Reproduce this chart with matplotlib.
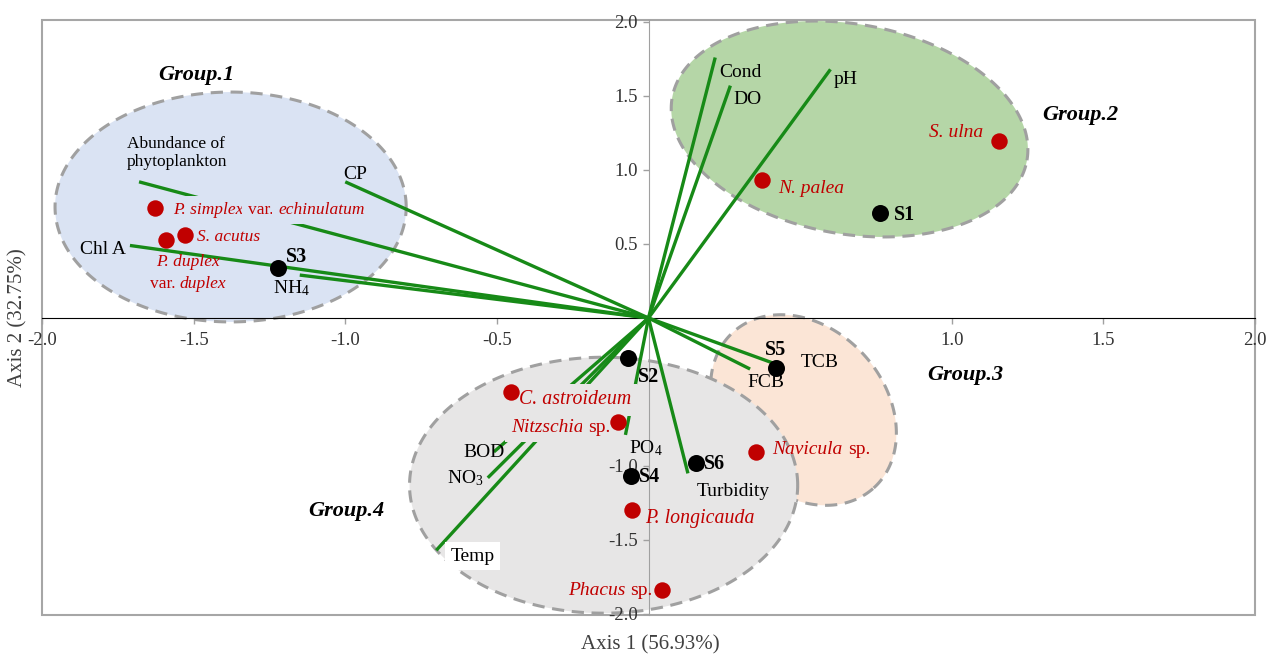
import numpy as np
import matplotlib
matplotlib.use("Agg")
import matplotlib.pyplot as plt
from matplotlib.patches import Polygon, Rectangle

plt.rcParams["font.family"] = ["Liberation Serif", "DejaVu Serif"]
plt.rcParams["mathtext.fontset"] = "custom"
plt.rcParams["mathtext.rm"] = "Liberation Serif"
plt.rcParams["mathtext.it"] = "Liberation Serif:italic"
plt.rcParams["mathtext.bf"] = "Liberation Serif:bold"

# ---- environmental variable loadings (vectors) ----
var_labels = ["Cond", "DO", "pH", "CP", "Abundance of\nphytoplankton", "Chl A",
              "NH$_4$", "TCB", "FCB", "Turbidity", "PO$_4$", "BOD", "NO$_3$", "Temp"]
var_x = [0.22, 0.27, 0.60, -1.00, -1.68, -1.71, -1.15, 0.445, 0.335, 0.13, -0.076, -0.51, -0.53, -0.70]
var_y = [1.76, 1.57, 1.68, 0.92, 0.92, 0.49, 0.29, -0.33, -0.345, -1.05, -0.79, -0.905, -1.08, -1.57]

# ---- sampling sites ----
site_labels = ["S1", "S2", "S3", "S4", "S5", "S6"]
site_x = [0.765, -0.066, -1.223, -0.059, 0.419, 0.155]
site_y = [0.71, -0.27, 0.34, -1.07, -0.34, -0.98]

# ---- phytoplankton species (text between * is set in italics) ----
sp_labels = ["*S. ulna*", "*N. palea*", "*P. simplex* var. *echinulatum*",
             "*S. acutus*", "*P. duplex*\nvar. *duplex*", "*C. astroideum*",
             "*Nitzschia* sp.", "*Navicula* sp.", "*P. longicauda*", "*Phacus* sp."]
sp_x = [1.157, 0.373, -1.626, -1.53, -1.59, -0.455, -0.099, 0.353, -0.056, 0.043]
sp_y = [1.196, 0.93, 0.743, 0.56, 0.527, -0.50, -0.70, -0.905, -1.30, -1.84]

# ---- group ellipses: centre, semi-axes (x units), rotation (deg) ----
groups = ["Group.1", "Group.2", "Group.3", "Group.4"]
grp_center = [(-1.378, 0.75), (0.663, 1.277), (0.511, -0.622), (-0.148, -1.13)]
grp_axes = [(0.579, 0.379), (0.594, 0.346), (0.346, 0.27), (0.64, 0.422)]
grp_angle = [0, -10, -48, 0]
grp_fill = ["#dae3f3", "#b5d6a7", "#fbe5d6", "#e7e6e6"]
grp_text_pos = [(-1.492, 1.642), (1.423, 1.372), (1.045, -0.385), (-0.998, -1.304)]

GREEN = "#178a17"
RED = "#c00000"

W, H = 1269, 657
fig = plt.figure(figsize=(W / 100, H / 100), dpi=100)
ax = fig.add_axes([42 / W, 1 - 615 / H, (1255 - 42) / W, (615 - 20) / H])
ax.set_xlim(-2.0, 2.0)
ax.set_ylim(-2.007, 2.0135)
renderer = fig.canvas.get_renderer()

# pixel scale ratio between x and y units, for drawing round-looking ellipses
bb = ax.get_position()
px_x = bb.width * W / 4.0
px_y = bb.height * H / (2.0135 + 2.007)
ratio = px_x / px_y

t = np.linspace(0, 2 * np.pi, 300)
for (cx, cy), (a, b), ang, fc in zip(grp_center, grp_axes, grp_angle, grp_fill):
    ph = np.deg2rad(ang)
    u, v = a * np.cos(t), b * np.sin(t)
    X = u * np.cos(ph) - v * np.sin(ph)
    Y = u * np.sin(ph) + v * np.cos(ph)
    poly = Polygon(np.column_stack([cx + X, cy + Y * ratio]), closed=True,
                   facecolor=fc, edgecolor="#a0a0a0", lw=2.2, ls=(0, (4, 2.5)),
                   zorder=1)
    ax.add_patch(poly)

for g, (gx, gy) in zip(groups, grp_text_pos):
    ax.text(gx, gy, g, fontsize=16, fontweight="bold", fontstyle="italic",
            ha="center", va="center", zorder=6)

# axes through the origin
for s in ["top", "right"]:
    ax.spines[s].set_visible(False)
ax.spines["left"].set_position(("data", 0))
ax.spines["left"].set_color("#a0a0a0")
ax.spines["bottom"].set_position(("data", 0))
ax.spines["bottom"].set_color("black")
ax.spines["left"].set_zorder(2)
ax.spines["bottom"].set_zorder(2)
ax.add_patch(Rectangle((0, 0), 1, 1, transform=ax.transAxes, fill=False,
                       edgecolor="#a6a6a6", lw=1.5, clip_on=False, zorder=0))

xt = [-2.0, -1.5, -1.0, -0.5, 1.0, 1.5, 2.0]
yt = [-2.0, -1.5, -1.0, 0.5, 1.0, 1.5, 2.0]
ax.set_xticks(xt, [f"{v:.1f}" for v in xt])
ax.set_yticks(yt, [f"{v:.1f}" for v in yt])
ax.tick_params(axis="both", labelsize=13.5, labelcolor="#333333", color="#a0a0a0",
               length=4, width=1)
ax.tick_params(axis="x", pad=6)


def rich_label(xy, markup, dx, dy, ha, fs, color, box=None):
    """Write a label whose *starred* parts are italic, offset (dx, dy) pixels."""
    px = fs * 100 / 72
    space = 0.25 * px
    lh = 1.27 * px
    lines = markup.split("\n")
    n = len(lines)
    for i, line in enumerate(lines):
        parts = [(s.strip(), k % 2 == 1) for k, s in enumerate(line.split("*"))
                 if s.strip()]
        yoff = dy + (n - 1) / 2 * lh - i * lh
        texts = []
        for j, (s, it) in enumerate(parts):
            kw = dict(fontsize=fs, color=color, zorder=4,
                      fontstyle="italic" if it else "normal")
            if box is not None:
                kw["bbox"] = dict(facecolor=box, edgecolor="none", pad=4.5)
            if j == 0:
                tx = ax.annotate(s, xy, xytext=(dx, yoff), textcoords="offset pixels",
                                 ha="left", va="center", **kw)
            else:
                tx = ax.annotate(s, xy=(1, 0), xycoords=texts[-1], xytext=(space, 0),
                                 textcoords="offset pixels", ha="left", va="bottom", **kw)
            texts.append(tx)
        if ha != "left":
            w = sum(tx.get_window_extent(renderer).width for tx in texts)
            w += space * (len(texts) - 1)
            shift = w if ha == "right" else w / 2
            texts[0].xyann = (dx - shift, yoff)


# loading vectors
for x, y in zip(var_x, var_y):
    ax.plot([0, x], [0, y], color=GREEN, lw=2.4, solid_capstyle="butt", zorder=3)

# label offsets in pixels (dx, dy), alignment and size
var_off = [(4, -15, "left"), (3, -14, "left"), (3, -10, "left"), (-2, 7, "left"),
           (-12, 29, "left"), (-4, -4, "right"), (-27, -13, "left"), (17, 4, "left"),
           (-3, -13, "left"), (9, -18, "left"), (4, -13, "left"), (-30, -1, "left"),
           (-41, 0, "left"), (14, -6, "left")]
var_fs = [14, 14, 14, 14, 12.5, 14, 14, 14, 14, 14, 14, 14, 14, 14]
for lab, x, y, (dx, dy, ha), fs in zip(var_labels, var_x, var_y, var_off, var_fs):
    kw = {}
    if lab == "Temp":
        kw["bbox"] = dict(facecolor="white", edgecolor="none", pad=4)
    ax.annotate(lab, (x, y), xytext=(dx, dy), textcoords="offset pixels",
                ha=ha, va="center", fontsize=fs, color="black", zorder=4,
                linespacing=1.2, **kw)

# species
ax.scatter(sp_x, sp_y, s=140, color=RED, zorder=5, linewidths=0)
sp_off = [(-16, 8, "right"), (17, -8, "left"), (18, -2, "left"), (12, -2, "left"),
          (22, -33, "center"), (8, -8, "left"), (-8, -6, "right"), (17, 2, "left"),
          (14, -8, "left"), (-9, 0, "right")]
sp_fs = [14, 14, 12.5, 12.5, 12.5, 14.3, 14, 14, 14.3, 14]
sp_box = [None, None, "#dae3f3", None, None, "#e7e6e6", "#e7e6e6", None, None, None]
for lab, x, y, (dx, dy, ha), fs, bc in zip(sp_labels, sp_x, sp_y, sp_off, sp_fs, sp_box):
    rich_label((x, y), lab, dx, dy, ha, fs, RED, bc)

# sites
ax.scatter(site_x, site_y, s=150, color="black", zorder=5, linewidths=0)
site_off = [(13, -2, "left"), (9, -19, "left"), (8, 11, "left"), (8, -1, "left"),
            (0, 18, "center"), (8, -1, "left")]
for lab, x, y, (dx, dy, ha) in zip(site_labels, site_x, site_y, site_off):
    ax.annotate(lab, (x, y), xytext=(dx, dy), textcoords="offset pixels",
                ha=ha, va="center", fontsize=14.5, fontweight="bold",
                color="black", zorder=6)

fig.text(650 / W, 1 - 645 / H, "Axis 1 (56.93%)", ha="center", va="center",
         fontsize=15, color="#404040")
fig.text(18 / W, 1 - 318 / H, "Axis 2 (32.75%)", ha="center", va="center",
         rotation=90, fontsize=15, color="#404040")

fig.savefig("out.png", dpi=100)
